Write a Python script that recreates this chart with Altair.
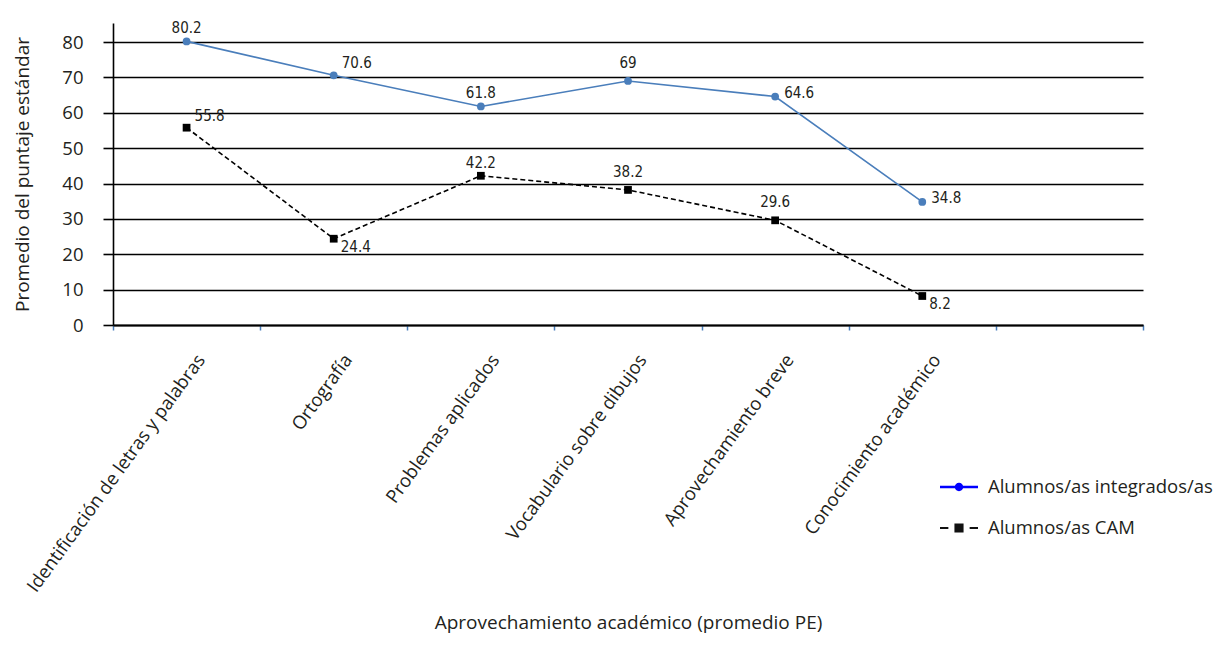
import altair as alt
import pandas as pd

# ---------------- data ----------------
categories = [
    "Identificación de letras y palabras",
    "Ortografía",
    "Problemas aplicados",
    "Vocabulario sobre dibujos",
    "Aprovechamiento breve",
    "Conocimiento académico",
]
axis_slots = categories + [""]          # one empty slot at the right, as in the original
series_names = ["Alumnos/as integrados/as", "Alumnos/as CAM"]
integrados = [80.2, 70.6, 61.8, 69, 64.6, 34.8]
cam = [55.8, 24.4, 42.2, 38.2, 29.6, 8.2]
y_ticks = [0, 10, 20, 30, 40, 50, 60, 70, 80]

rows = []
for s, vals in zip(series_names, [integrados, cam]):
    for c, v in zip(categories, vals):
        rows.append({"serie": s, "categoria": c, "valor": v,
                     "etiqueta": f"{v:g}", "clave": f"{s}|{c}"})
df = pd.DataFrame(rows)

# ---------------- styles ----------------
FONT = "Open Sans"
NUM_FONT = "Liberation Sans Narrow, DejaVu Sans Condensed, Open Sans"
TXT = "#231f20"
BLUE = "#4a7ebb"

def key(si, ci):
    return f"{series_names[si]}|{categories[ci]}"

# label placement groups: (keys, align, dx, dy)
placements = [
    ([key(0, 0), key(0, 2), key(1, 2)], "center", 0, -13),
    ([key(0, 3), key(1, 3), key(1, 4)], "center", 0, -18),
    ([key(0, 1), key(1, 0)], "left", 8, -12),
    ([key(0, 4), key(0, 5)], "left", 9, -4),
    ([key(1, 1), key(1, 5)], "left", 7, 8),
]

x_enc = alt.X(
    "categoria:N",
    scale=alt.Scale(type="band", domain=axis_slots, paddingInner=0, paddingOuter=0),
    axis=alt.Axis(
        title="Aprovechamiento académico (promedio PE)",
        titleFont=FONT, titleFontSize=19, titleFontWeight="normal", titleColor=TXT,
        titleY=297, titleBaseline="middle",
        tickBand="extent", tickColor=BLUE, tickSize=5, tickWidth=1.5,
        domainColor="black", domainWidth=2,
        labelAngle=306, labelFont=FONT, labelFontSize=18.5, labelColor=TXT,
        labelLimit=500, labelPadding=26, labelOffset=14, grid=False,
    ),
)
y_enc = alt.Y(
    "valor:Q",
    scale=alt.Scale(domain=[0, 85.4], nice=False, zero=True),
    axis=alt.Axis(
        title="Promedio del puntaje estándar",
        titleFont=FONT, titleFontSize=19, titleFontWeight="normal", titleColor=TXT,
        titleX=-91, titleBaseline="middle",
        values=y_ticks, grid=True, gridColor="black", gridWidth=1.6,
        domainColor="black", domainWidth=1.6,
        tickColor="black", tickSize=10, tickWidth=1.6,
        labelFont=FONT, labelFontSize=18.5, labelColor=TXT, labelPadding=20,
    ),
)

base = alt.Chart(df)

line_int = base.transform_filter(alt.datum.serie == series_names[0]).mark_line(
    color=BLUE, strokeWidth=1.6).encode(x=x_enc, y=y_enc)
line_cam = base.transform_filter(alt.datum.serie == series_names[1]).mark_line(
    color="black", strokeWidth=1.6, strokeDash=[5, 3]).encode(x=x_enc, y=y_enc)
pt_int = base.transform_filter(alt.datum.serie == series_names[0]).mark_point(
    shape="circle", filled=True, size=60, opacity=1, color=BLUE).encode(x=x_enc, y=y_enc)
pt_cam = base.transform_filter(alt.datum.serie == series_names[1]).mark_point(
    shape="square", filled=True, size=60, opacity=1, color="black").encode(x=x_enc, y=y_enc)

text_layers = []
for keys, align, dx, dy in placements:
    text_layers.append(
        base.transform_filter(alt.FieldOneOfPredicate(field="clave", oneOf=keys))
        .mark_text(font=NUM_FONT, fontSize=15, color=TXT, align=align,
                   baseline="middle", dx=dx, dy=dy)
        .encode(x=x_enc, y=y_enc, text="etiqueta:N")
    )

# legend symbols: line + marker drawn as custom paths
path_int = ("M-1,-0.06H-0.2V0.06H-1Z M0.2,-0.06H1V0.06H0.2Z "
            "M0.22,0A0.22,0.22 0 1,1 -0.22,0A0.22,0.22 0 1,1 0.22,0Z")
path_cam = ("M-1,-0.05H-0.56V0.05H-1Z M0.56,-0.05H1V0.05H0.56Z "
            "M-0.24,-0.24H0.24V0.24H-0.24Z")

leg = alt.Legend(title=None, orient="none", legendX=827, legendY=445,
                 symbolSize=1444, symbolStrokeWidth=0, labelFont=FONT,
                 labelFontSize=18.5, labelColor=TXT, labelOffset=10,
                 labelLimit=500, rowPadding=12, padding=0)

legend_layer = base.transform_filter("false").mark_point(filled=True, opacity=1).encode(
    shape=alt.Shape("serie:N", scale=alt.Scale(domain=series_names, range=[path_int, path_cam]),
                    legend=leg),
    fill=alt.Fill("serie:N", scale=alt.Scale(domain=series_names, range=["#0000ff", "#111111"]),
                  legend=leg),
)

chart = alt.layer(line_int, line_cam, pt_int, pt_cam, *text_layers, legend_layer).properties(
    width=1030, height=302,
    autosize=alt.AutoSizeParams(type="none"),
    padding={"left": 105, "top": 15, "right": 71, "bottom": 320},
    background="white",
).configure_view(strokeWidth=0)

chart.save("out.html", embed_options={"renderer": "svg", "actions": False})
